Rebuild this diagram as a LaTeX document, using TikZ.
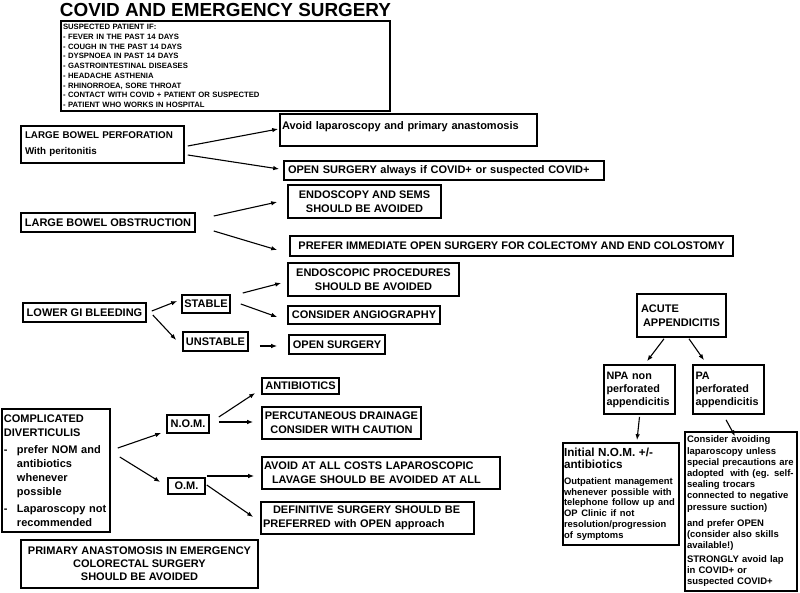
\documentclass[tikz,border=0pt]{standalone}
\usepackage{fontspec}
\setmainfont{Liberation Sans}
\usetikzlibrary{arrows.meta,calc}
\hyphenpenalty=10000
\exhyphenpenalty=10000
\begin{document}
\begin{tikzpicture}[x=1pt,y=-1pt,
  bx/.style={draw, line width=1.6pt, inner sep=0pt, font=\bfseries\fontsize{11}{14}\selectfont},
  arr/.style={line width=1.1pt, -{Latex[length=6pt,width=4.5pt]}}]
\fill[white] (0,0) rectangle (800,592);
\useasboundingbox (0,0) rectangle (800,592);

\node[font=\bfseries\fontsize{18.9}{20}\selectfont, inner sep=0pt] (title) at (225.5,10) {COVID AND EMERGENCY SURGERY};

\node[bx, minimum width=329pt, minimum height=90pt, text width=325pt, align=left,
  font=\bfseries\fontsize{7.7}{9.75}\selectfont] (susp) at (225.5,66)
  {SUSPECTED PATIENT IF:\\
   - FEVER IN THE PAST 14 DAYS\\
   - COUGH IN THE PAST 14 DAYS\\
   - DYSPNOEA IN PAST 14 DAYS\\
   - GASTROINTESTINAL DISEASES\\
   - HEADACHE ASTHENIA\\
   - RHINORROEA, SORE THROAT\\
   - CONTACT WITH COVID + PATIENT OR SUSPECTED\\
   - PATIENT WHO WORKS IN HOSPITAL};

% Large bowel perforation
\node[bx, minimum width=163pt, minimum height=37pt, text width=155pt, align=left,
  font=\bfseries\fontsize{9.8}{16}\selectfont] (lbp) at (102.5,144.5)
  {LARGE BOWEL PERFORATION\\ With peritonitis};
\node[bx, minimum width=257pt, minimum height=32pt, text width=253pt, align=left,
  text height=8pt, text depth=10pt] (avoid) at (408.5,130)
  {Avoid laparoscopy and primary anastomosis};
\node[bx, minimum width=320pt, minimum height=19pt, text width=312pt, align=left] (os1) at (444,170.5)
  {OPEN SURGERY always if COVID+ or suspected COVID+};

% Large bowel obstruction
\node[bx, minimum width=174pt, minimum height=19pt] (lbo) at (108,222.5) {LARGE BOWEL OBSTRUCTION};
\node[bx, minimum width=153pt, minimum height=33pt, align=center] (sems) at (364.5,201.5)
  {ENDOSCOPY AND SEMS\\ SHOULD BE AVOIDED};
\node[bx, minimum width=443pt, minimum height=20pt] (prefer) at (511.5,246)
  {PREFER IMMEDIATE OPEN SURGERY FOR COLECTOMY AND END COLOSTOMY};

% Lower GI bleeding
\node[bx, minimum width=123pt, minimum height=19pt] (lgib) at (84.5,312.5) {LOWER GI BLEEDING};
\node[bx, minimum width=48pt, minimum height=18pt] (stable) at (206,304) {STABLE};
\node[bx, minimum width=65pt, minimum height=19pt] (unstable) at (215.5,341.5) {UNSTABLE};
\node[bx, minimum width=171pt, minimum height=33pt, align=center] (endo) at (373.5,279.5)
  {ENDOSCOPIC PROCEDURES\\ SHOULD BE AVOIDED};
\node[bx, minimum width=152pt, minimum height=18pt] (angio) at (364,315) {CONSIDER ANGIOGRAPHY};
\node[bx, minimum width=96pt, minimum height=19pt] (os2) at (337,344.5) {OPEN SURGERY};

% Complicated diverticulitis
\node[bx, minimum width=108pt, minimum height=123pt, text width=104pt, align=left] (compl) at (56,470.5)
  {COMPLICATED\\ DIVERTICULIS\par\vspace{3pt}
   \makebox[13pt][l]{-}prefer NOM and\\ \hspace*{13pt}antibiotics\\ \hspace*{13pt}whenever\\ \hspace*{13pt}possible\par\vspace{3pt}
   \makebox[13pt][l]{-}Laparoscopy not\\ \hspace*{13pt}recommended};
\node[bx, minimum width=42pt, minimum height=18pt] (nom) at (188,424) {N.O.M.};
\node[bx, minimum width=37pt, minimum height=16pt] (om) at (186.5,486) {O.M.};
\node[bx, minimum width=77pt, minimum height=16pt] (antib) at (300.5,386) {ANTIBIOTICS};
\node[bx, minimum width=159pt, minimum height=32pt, align=center] (percut) at (341.5,423)
  {PERCUTANEOUS DRAINAGE\\ CONSIDER WITH CAUTION};
\node[bx, minimum width=238pt, minimum height=32pt, text width=234pt, align=left] (avoidall) at (381,473)
  {AVOID AT ALL COSTS LAPAROSCOPIC\\ \hspace*{8pt}LAVAGE SHOULD BE AVOIDED AT ALL};
\node[bx, minimum width=213pt, minimum height=32pt, text width=209pt, align=left] (defin) at (367.5,518)
  {\hspace*{10pt}DEFINITIVE SURGERY SHOULD BE\\ PREFERRED with OPEN approach};
\node[bx, minimum width=237pt, minimum height=48pt, align=center, font=\bfseries\fontsize{11}{13}\selectfont] (prim) at (139.5,564)
  {PRIMARY ANASTOMOSIS IN EMERGENCY\\ COLORECTAL SURGERY\\ SHOULD BE AVOIDED};

% Appendicitis
\node[bx, minimum width=89pt, minimum height=43pt, text width=81pt, align=left] (acute) at (681.5,315.5)
  {ACUTE\\ \hspace*{2pt}APPENDICITIS};
\node[bx, minimum width=71pt, minimum height=49pt, text width=66pt, align=left,
  font=\bfseries\fontsize{10.8}{13}\selectfont] (npa) at (639.5,389.5)
  {NPA non\\ perforated\\ appendicitis};
\node[bx, minimum width=71pt, minimum height=49pt, text width=66pt, align=left,
  font=\bfseries\fontsize{10.8}{13}\selectfont] (pa) at (728.5,389.5)
  {PA\\ perforated\\ appendicitis};
\node[bx, minimum width=116pt, minimum height=102pt, text width=114pt, align=left] (inom) at (621,494)
  {\fontsize{11.7}{12}\selectfont Initial N.O.M. +/-\\ antibiotics\par\vspace{5.2pt}
   \fontsize{9.4}{10.8}\selectfont Outpatient management\\ whenever possible with\\ telephone follow up and\\ OP Clinic if not\\ resolution/progression\\ of symptoms\par};
\node[bx, minimum width=112pt, minimum height=159pt, text width=108pt, align=left,
  font=\bfseries\fontsize{9.5}{11.2}\selectfont] (pac) at (741,511.5)
  {Consider avoiding\\ laparoscopy unless\\ special precautions are\\ adopted\ \ with (eg. self-\\ sealing trocars\\ connected to negative\\ pressure suction)\par\vspace{4.8pt}
   and prefer OPEN\\ (consider also skills\\ available!)\par\vspace{2.8pt}
   STRONGLY avoid lap\\ in COVID+ or\\ suspected COVID+\par};

% Connectors
\draw[arr] ($(lbp.east)+(3,1.5)$) -- ($(avoid.west)+(-1,-1)$);
\draw[arr] ($(lbp.east)+(3,10.5)$) -- ($(os1.west)+(-4,-1.5)$);
\draw[arr] ($(lbo.east)+(18,-6.5)$) -- ($(sems.west)+(-10,0.5)$);
\draw[arr] ($(lbo.east)+(18,8.5)$) -- ($(prefer.west)+(-12,4)$);
\draw[arr] ($(lgib.east)+(5,-1.5)$) -- ($(stable.west)+(-4,-3)$);
\draw[arr] ($(lgib.east)+(6,2.5)$) -- ($(unstable.west)+(-6,-1.5)$);
\draw[arr] ($(stable.east)+(12,-11)$) -- ($(endo.west)+(-6,3.5)$);
\draw[arr] ($(stable.east)+(10,0)$) -- ($(angio.west)+(-10,2)$);
\draw[arr] ($(unstable.east)+(11,4.5)$) -- ($(os2.west)+(-11,1.5)$);
\draw[arr] ($(acute.south)+(-17.5,1)$) -- ($(npa.north)+(7.5,-3)$);
\draw[arr] ($(acute.south)+(7.5,1)$) -- ($(pa.north)+(-24.5,-4)$);
\draw[arr] ($(npa.south)+(0,2)$) -- ($(inom.north)+(16,-2)$);
\draw[arr] ($(pa.south)+(-2.5,5)$) -- ($(pac.north)+(-6,5)$);
\draw[arr] ($(compl.east)+(7,-22.5)$) -- ($(nom.west)+(-5,9)$);
\draw[arr] ($(compl.east)+(9,-13.5)$) -- ($(om.west)+(-7,-4)$);
\draw[arr] ($(nom.east)+(9,-7)$) -- ($(antib.west)+(-6,7)$);
\draw[arr] ($(nom.east)+(9,-2)$) -- ($(percut.west)+(-8,-1)$);
\draw[arr] ($(om.east)+(1,-10)$) -- ($(avoidall.west)+(-7,3)$);
\draw[arr] ($(om.east)+(1,-1)$) -- ($(defin.west)+(-7,-1)$);
\end{tikzpicture}
\end{document}
